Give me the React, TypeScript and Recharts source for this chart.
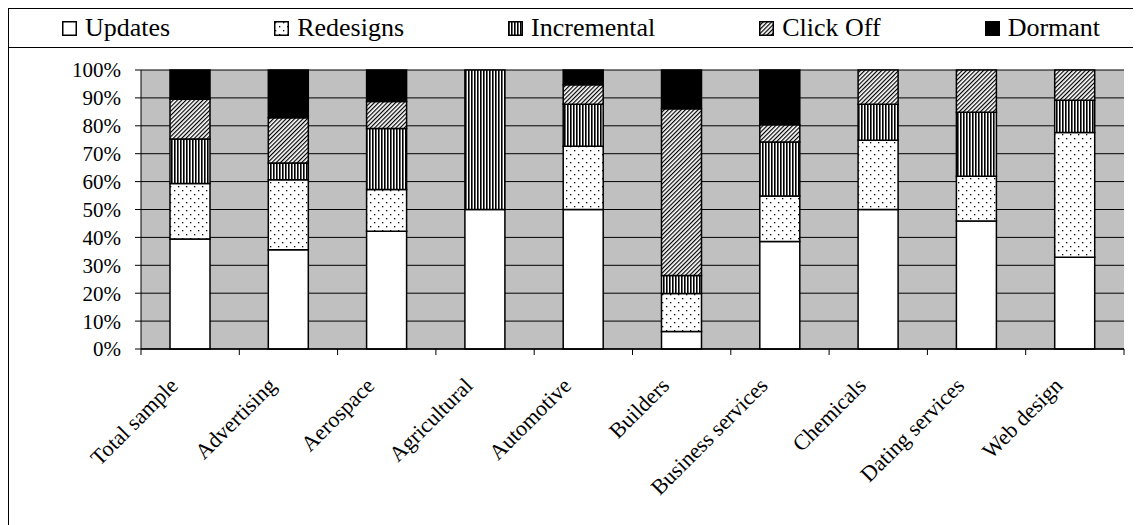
import { BarChart, Bar, XAxis, YAxis, CartesianGrid } from 'recharts';

const CATEGORIAS = [
  'Total sample', 'Advertising', 'Aerospace', 'Agricultural', 'Automotive',
  'Builders', 'Business services', 'Chemicals', 'Dating services', 'Web design',
];
const UPDATES = [39.4, 35.6, 42.2, 50, 50, 6.3, 38.5, 50, 45.9, 32.9];
const REDESIGNS = [19.9, 25.1, 15.0, 0, 22.7, 13.6, 16.3, 24.8, 16.0, 44.7];
const INCREMENTAL = [16.0, 6.0, 21.8, 50, 15.0, 6.4, 19.4, 12.9, 23.0, 11.6];
const CLICK_OFF = [14.2, 16.2, 9.7, 0, 7.0, 59.8, 6.2, 12.3, 15.1, 10.8];
const DORMANT = [10.5, 17.1, 11.3, 0, 5.3, 13.9, 19.6, 0, 0, 0];
const Y_TICKS = [0, 0.1, 0.2, 0.3, 0.4, 0.5, 0.6, 0.7, 0.8, 0.9, 1];

const SERIES = [
  { key: 'Updates', fill: '#ffffff' },
  { key: 'Redesigns', fill: 'url(#pat-dots)' },
  { key: 'Incremental', fill: 'url(#pat-vert)' },
  { key: 'Click Off', fill: 'url(#pat-diag)' },
  { key: 'Dormant', fill: '#000000' },
];

const datos = CATEGORIAS.map((nombre, i) => ({
  nombre,
  Updates: UPDATES[i],
  Redesigns: REDESIGNS[i],
  Incremental: INCREMENTAL[i],
  'Click Off': CLICK_OFF[i],
  Dormant: DORMANT[i],
}));

const FUENTE = '"Liberation Serif", "Times New Roman", serif';
const ANCHO = 1132;
const ALTO = 516;
const MARGEN = { top: 61, right: 17, bottom: 26, left: 0 };
const EJE_Y = 132;
const BANDA = (ANCHO - MARGEN.right - EJE_Y) / CATEGORIAS.length;

const formatPct = (v: number) => `${Math.round(v * 100)}%`;

const TickX = ({ x, y, payload, index }: any) => {
  const ejeY = y - 6;
  return (
    <g>
      <line x1={x - BANDA / 2} x2={x - BANDA / 2} y1={ejeY} y2={ejeY + 6} stroke="#000" />
      {index === CATEGORIAS.length - 1 && (
        <line x1={x + BANDA / 2} x2={x + BANDA / 2} y1={ejeY} y2={ejeY + 6} stroke="#000" />
      )}
      <text
        transform={`translate(${x - 11},${ejeY + 38}) rotate(-45)`}
        textAnchor="end"
        fontSize={22}
        fontFamily={FUENTE}
        fill="#000"
      >
        {payload.value}
      </text>
    </g>
  );
};

const Leyenda = () => (
  <div
    style={{
      position: 'absolute', top: 0, left: 0, width: 1144, height: 38,
      borderBottom: '1px solid #000', display: 'flex', justifyContent: 'center',
      alignItems: 'center', gap: 104, fontFamily: FUENTE, fontSize: 26, color: '#000',
    }}
  >
    {SERIES.map(s => (
      <div key={s.key} style={{ display: 'flex', alignItems: 'center', gap: 8 }}>
        <svg width={15} height={15}>
          <rect x={0.75} y={0.75} width={13.5} height={13.5} fill={s.fill} stroke="#000" strokeWidth={1.5} />
        </svg>
        <span>{s.key}</span>
      </div>
    ))}
  </div>
);

const App = () => (
  <div
    style={{
      position: 'relative', width: 1133, height: 517, overflow: 'hidden',
      boxSizing: 'border-box', borderLeft: '1px solid #000', borderTop: '1px solid #000',
    }}
  >
    <style>{'body{overflow:hidden}'}</style>
    <div style={{ position: 'absolute', top: 0, left: 0 }}>
      <BarChart width={ANCHO} height={ALTO} data={datos} margin={MARGEN} stackOffset="expand" barSize={40}>
        <defs>
          <pattern id="pat-dots" width={8} height={8} patternUnits="userSpaceOnUse">
            <rect width={8} height={8} fill="#fff" />
            <rect x={1} y={1} width={1.3} height={1.3} fill="#000" />
            <rect x={5} y={5} width={1.3} height={1.3} fill="#000" />
          </pattern>
          <pattern id="pat-vert" width={3} height={10} patternUnits="userSpaceOnUse">
            <rect width={3} height={10} fill="#fff" />
            <rect x={0} y={0} width={1.6} height={10} fill="#000" />
          </pattern>
          <pattern id="pat-diag" width={3} height={3} patternUnits="userSpaceOnUse" patternTransform="rotate(45)">
            <rect width={3} height={3} fill="#fff" />
            <rect x={0} y={0} width={1.2} height={3} fill="#000" />
          </pattern>
        </defs>
        <CartesianGrid vertical={false} stroke="#000" fill="#c0c0c0" fillOpacity={1} />
        <XAxis
          dataKey="nombre"
          interval={0}
          height={150}
          tickLine={false}
          tickSize={6}
          tickMargin={0}
          axisLine={{ stroke: '#000', strokeWidth: 1.5 }}
          tick={<TickX />}
        />
        <YAxis
          type="number"
          domain={[0, 1]}
          ticks={Y_TICKS}
          interval={0}
          width={EJE_Y}
          tickFormatter={formatPct}
          tickSize={6}
          tickMargin={14}
          axisLine={{ stroke: '#000' }}
          tickLine={{ stroke: '#000' }}
          tick={{ fontSize: 21, fontFamily: FUENTE, fill: '#000' }}
        />
        <YAxis
          yAxisId="borde"
          orientation="right"
          width={0}
          tick={false}
          tickLine={false}
          axisLine={{ stroke: '#808080' }}
        />
        {SERIES.map(s => (
          <Bar
            key={s.key}
            dataKey={s.key}
            stackId="a"
            fill={s.fill}
            stroke="#000"
            strokeWidth={1.5}
            isAnimationActive={false}
          />
        ))}
      </BarChart>
    </div>
    <Leyenda />
  </div>
);

export default App;
